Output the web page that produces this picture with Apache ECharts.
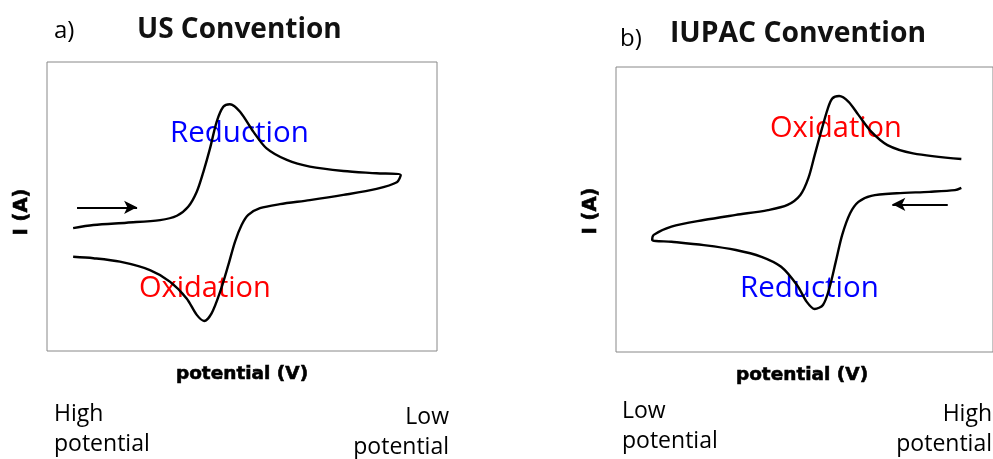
<!DOCTYPE html>
<html>
<head>
<meta charset="utf-8">
<script src="https://cdn.jsdelivr.net/npm/echarts@6/dist/echarts.min.js"></script>
<style>
html,body{margin:0;padding:0;background:#fff;}
#chart{width:993px;height:459px;}
</style>
</head>
<body>
<div id="chart"></div>
<script>
// Panel a (US convention): potential axis runs high -> low (left to right), arbitrary units
const usPotential = [93.3,88.1,79.6,71.0,66.7,63.8,61.6,59.9,58.2,56.5,54.8,53.1,50.5,47.1,43.7,38.5,32.6,24.0,15.5,9.3,
  10.3,15.5,24.0,32.6,40.3,45.4,48.4,50.1,51.8,53.5,55.6,57.8,59.7,61.6,64.2,68.5,73.6,81.3,88.1,93.3];
const usCurrent = [-7.5,-6.4,-5.6,-4.7,-3.2,-0.1,5.1,12.0,20.1,29.3,34.5,35.4,32.8,25.9,20.1,16.1,13.8,12.3,11.5,10.9,
  8.4,6.1,4.0,2.2,0.8,-0.6,-2.9,-6.4,-12.2,-20.2,-29.5,-37.0,-39.6,-37.5,-31.8,-26.0,-22.0,-19.1,-17.9,-17.4];
const usScanArrow = [[92.3,-0.3],[76.9,-0.3]];

// Panel b (IUPAC convention): potential axis runs low -> high, arbitrary units
const iupacPotential = [91.6,89.9,83.1,74.5,67.7,64.3,62.1,60.0,58.3,56.6,54.9,52.7,50.6,48.0,43.8,38.6,31.8,23.3,14.7,9.6,
  10.0,14.7,23.3,31.8,40.3,45.5,48.9,51.0,52.7,54.4,56.2,57.4,59.2,61.7,64.3,67.7,72.0,78.8,91.6];
const iupacCurrent = [7.6,6.8,6.2,5.7,4.8,2.7,-1.3,-8.9,-18.3,-27.6,-33.5,-34.9,-32.4,-26.5,-20.1,-16.6,-14.2,-12.5,-11.3,-10.7,
  -8.9,-6.0,-3.7,-1.9,-0.2,1.6,5.1,10.9,19.1,27.3,35.5,39.0,39.8,37.8,33.2,27.3,22.6,19.7,17.7];
const iupacScanArrow = [[88.0,1.8],[73.3,1.8]];

const panelTitles = ['US Convention','IUPAC Convention'];
const panelTags = ['a)','b)'];
const xName = 'potential (V)';
const yName = 'I (A)';

function zip(xs, ys){ return xs.map((x,i)=>[x, ys[i]]); }

const chart = echarts.init(document.getElementById('chart'), null, {renderer:'canvas'});

const axisNameStyle = {fontFamily:'DejaVu Sans', fontWeight:'bold', fontSize:18.5, color:'#000',
  textBorderColor:'#000', textBorderWidth:0.6};
const calibriLike = 'Open Sans';

function xAxisCfg(idx, inverse, pad){
  return {type:'value', gridIndex:idx, min:0, max:100, inverse:inverse,
    name:xName, nameLocation:'middle', nameGap:14,
    nameTextStyle:Object.assign({padding:pad}, axisNameStyle),
    axisLine:{show:false}, axisTick:{show:false}, axisLabel:{show:false}, splitLine:{show:false}};
}
function yAxisCfg(idx, pad){
  return {type:'value', gridIndex:idx, min:-50, max:50,
    name:yName, nameLocation:'middle', nameGap:15,
    nameTextStyle:Object.assign({padding:pad}, axisNameStyle, {fontSize:19.5}),
    axisLine:{show:false}, axisTick:{show:false}, axisLabel:{show:false}, splitLine:{show:false}};
}
function cvSeries(idx, data, arrow){
  return {type:'line', xAxisIndex:idx, yAxisIndex:idx, data:data, smooth:0.3,
    showSymbol:false, symbol:'none', lineStyle:{color:'#000', width:2.4}, silent:true,
    markLine:{silent:true, symbol:['none','arrow'], symbolSize:[10,13],
      lineStyle:{type:'solid', color:'#000', width:1.8}, label:{show:false},
      data:[[{coord:arrow[0]},{coord:arrow[1]}]]}};
}
function txt(x, y, text, opts){
  return {type:'text', x:x, y:y, silent:true,
    style:Object.assign({text:text, fontFamily:calibriLike, fontSize:23, fill:'#000', align:'left', verticalAlign:'middle'}, opts||{})};
}

chart.setOption({
  animation:false,
  backgroundColor:'#fff',
  grid:[
    {left:47, top:62, width:390, height:289, show:true, borderColor:'#888', borderWidth:1, backgroundColor:'transparent'},
    {left:616, top:67, width:390, height:285, show:true, borderColor:'#888', borderWidth:1, backgroundColor:'transparent'}
  ],
  xAxis:[xAxisCfg(0, true, [0,0,0,0]), xAxisCfg(1, false, [0,5,0,0])],
  yAxis:[yAxisCfg(0, [0,11,0,0]), yAxisCfg(1, [0,3,0,0])],
  series:[
    cvSeries(0, zip(usPotential, usCurrent), usScanArrow),
    cvSeries(1, zip(iupacPotential, iupacCurrent), iupacScanArrow)
  ],
  graphic:[
    txt(54, 31.4, panelTags[0], {fontSize:24}),
    txt(137, 30, panelTitles[0], {fontSize:28, fontWeight:'bold', fill:'#111'}),
    txt(620, 39.4, panelTags[1], {fontSize:24}),
    txt(670, 33.5, panelTitles[1], {fontSize:28.3, fontWeight:'bold', fill:'#111'}),
    txt(170, 134, 'Reduction', {fontSize:29.5, fill:'#0000ff'}),
    txt(139, 288.5, 'Oxidation', {fontSize:29, fill:'#ff0000'}),
    txt(770, 128.5, 'Oxidation', {fontSize:29, fill:'#ff0000'}),
    txt(740, 289, 'Reduction', {fontSize:29.5, fill:'#0000ff'}),
    txt(54, 429.5, 'High\npotential', {lineHeight:30}),
    txt(449, 432, 'Low\npotential', {lineHeight:30, align:'right'}),
    txt(622, 426.5, 'Low\npotential', {lineHeight:30}),
    txt(992, 429.5, 'High\npotential', {lineHeight:30, align:'right'})
  ]
});
</script>
</body>
</html>
